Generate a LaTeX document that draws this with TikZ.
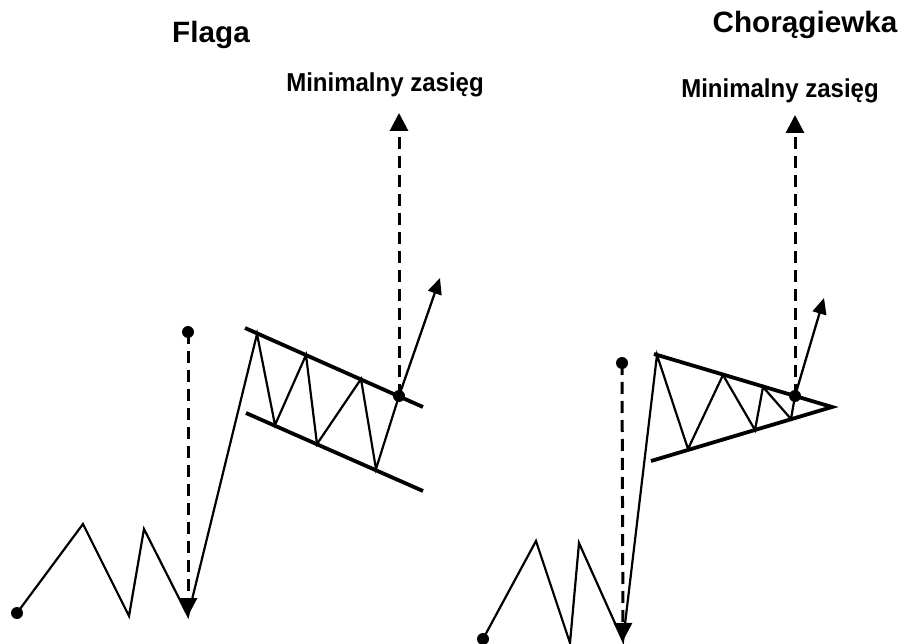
\documentclass[tikz,border=0pt]{standalone}
\usepackage{fontspec}
\setmainfont{Liberation Sans}
\usetikzlibrary{arrows.meta}
\begin{document}
\begin{tikzpicture}[x=1pt, y=-1pt,
        dot/.style={circle, fill, inner sep=0pt, minimum size=12pt},
        price/.style={line width=2.2pt},
        border/.style={line width=3.8pt},
        target/.style={line width=3pt, dash pattern=on 12pt off 7pt, -{Triangle[length=18pt, width=18pt]}},
        breakout/.style={line width=2.3pt, -{Triangle[length=16pt, width=14pt]}},
        title/.style={anchor=base, font=\bfseries\fontsize{28}{30}\selectfont, xscale=1.06, yscale=1.05},
        rangetext/.style={anchor=base, font=\bfseries\fontsize{24}{28}\selectfont, yscale=1.08}
        ]
      \useasboundingbox (0,0) rectangle (903,644);
      \node[title] (flag) at (211,43) {Flaga};
      \node[title] (pennant) at (805,33) {Chorągiewka};
      \node[rangetext] (frange) at (385,92) {Minimalny zasięg};
      \node[rangetext] (prange) at (780,98) {Minimalny zasięg};

      % Flaga
      \coordinate (f0) at (17,613);
      \coordinate (f1) at (83,524);
      \coordinate (f2) at (129,616);
      \coordinate (f3) at (144,529);
      \coordinate (f4) at (188,616);
      \coordinate (f5) at (257,334);
      \coordinate (f6) at (275,425);
      \coordinate (f7) at (306,355);
      \coordinate (f8) at (317,444);
      \coordinate (f9) at (361,379);
      \coordinate (f10) at (376,469);
      \coordinate (fb) at (399,396);
      \coordinate (fm) at (188,332);
      \coordinate (ft) at (399,113);
      \coordinate (fo) at (440,278);
      \coordinate (fu1) at (245,328);
      \coordinate (fu2) at (423,407);
      \coordinate (fl1) at (246,413);
      \coordinate (fl2) at (423,491);
      \draw[border] (fu1) -- (fu2);
      \draw[border] (fl1) -- (fl2);
      \draw[price] (f0) -- (f1) -- (f2) -- (f3) -- (f4) -- (f5) -- (f6) -- (f7)
        -- (f8) -- (f9) -- (f10) -- (fb);
      \draw[target] (fm) -- (f4);
      \draw[target] (fb) -- (ft);
      \draw[breakout] (fb) -- (fo);
      \node[dot] (fd0) at (f0) {};
      \node[dot] (fdm) at (fm) {};
      \node[dot] (fdb) at (fb) {};

      % Chorągiewka
      \coordinate (p0) at (483,639);
      \coordinate (p1) at (536,541);
      \coordinate (p2) at (570,643);
      \coordinate (p3) at (579,543);
      \coordinate (p4) at (623,641);
      \coordinate (p5) at (657,355);
      \coordinate (p6) at (688,449);
      \coordinate (p7) at (723,375);
      \coordinate (p8) at (755,430);
      \coordinate (p9) at (763,387);
      \coordinate (p10) at (791,419);
      \coordinate (pb) at (795,396);
      \coordinate (pm) at (622,363);
      \coordinate (pt) at (795,115);
      \coordinate (po) at (824,298);
      \coordinate (pu) at (654,354);
      \coordinate (pl) at (651,461);
      \coordinate (pa) at (832,407);
      \draw[border] (pu) -- (pa) -- (pl);
      \draw[price] (p0) -- (p1) -- (p2) -- (p3) -- (p4) -- (p5) -- (p6) -- (p7)
        -- (p8) -- (p9) -- (p10) -- (pb);
      \draw[target] (pm) -- (p4);
      \draw[target] (pb) -- (pt);
      \draw[breakout] (pb) -- (po);
      \node[dot] (pd0) at (p0) {};
      \node[dot] (pdm) at (pm) {};
      \node[dot] (pdb) at (pb) {};
\end{tikzpicture}
\end{document}
